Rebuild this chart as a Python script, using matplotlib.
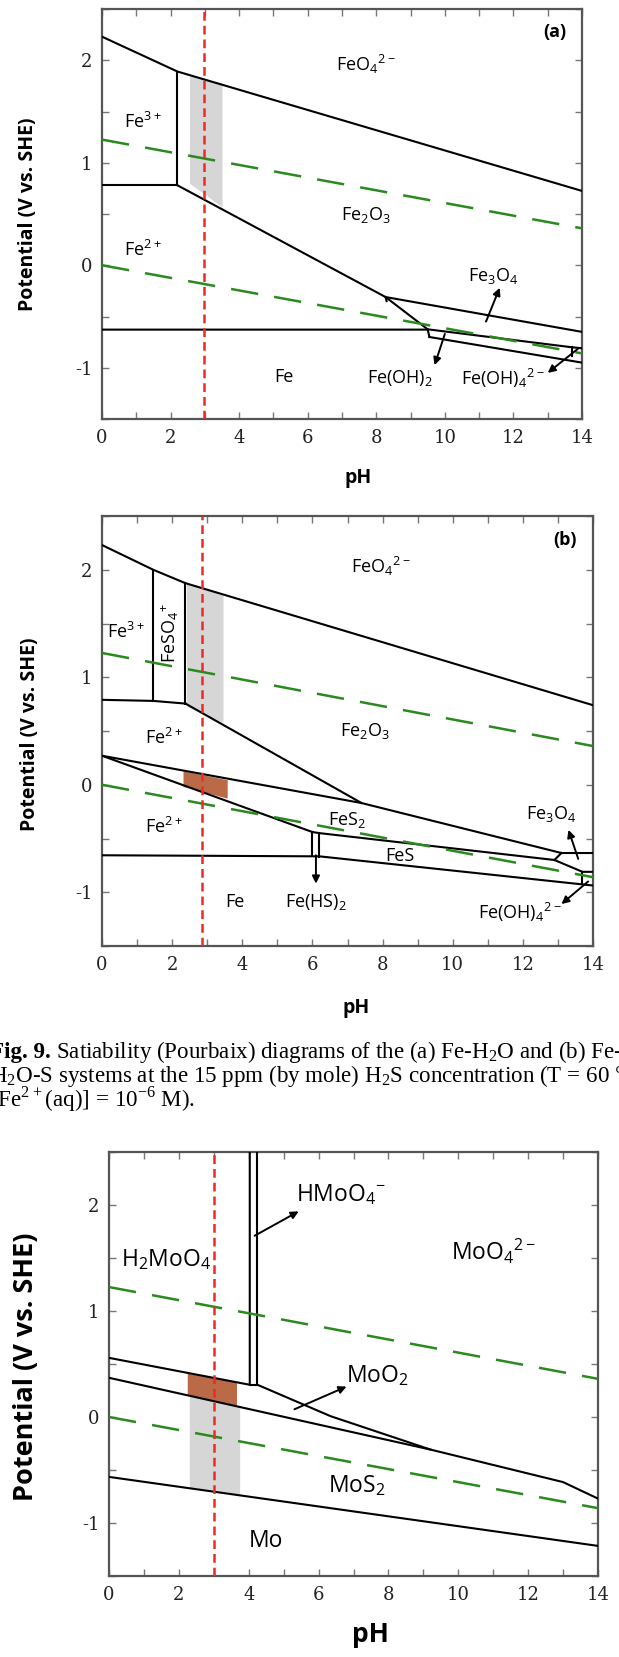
import matplotlib
matplotlib.use('Agg')
import matplotlib.pyplot as plt

plt.rcParams['mathtext.fontset'] = 'custom'
plt.rcParams['mathtext.rm'] = 'Open Sans'
plt.rcParams['mathtext.sf'] = 'Liberation Serif'

W, H = 619, 1657

# water stability lines (green dashed)
WATER_PH = [0, 14]
WATER_UP = [1.226, 0.36]
WATER_LO = [0.0, -0.86]

# ---- panel (a) Fe-H2O ----
A_RED_PH = 2.97
A_LINES = [
    ([0, 2.2, 14], [2.23, 1.89, 0.725]),
    ([2.2, 2.2], [1.89, 0.78]),
    ([0, 2.2], [0.78, 0.78]),
    ([2.2, 8.27, 9.5], [0.78, -0.31, -0.625]),
    ([8.27, 8.3], [-0.31, -0.35]),
    ([8.27, 14], [-0.31, -0.65]),
    ([0, 9.5, 9.55], [-0.628, -0.628, -0.70]),
    ([9.5, 13.7, 14], [-0.625, -0.80, -0.81]),
    ([9.55, 14], [-0.70, -0.95]),
    ([13.7, 13.7], [-0.80, -0.89]),
]
A_GREY_PH = [2.55, 3.5]
A_GREY_TOP = [1.855, 1.76]
A_GREY_BOT = [0.80, 0.57]
A_LABELS = [
    ('FeO$_\\mathrm{4}$$^\\mathrm{2-}$', 7.7, 1.96),
    ('Fe$^\\mathrm{3+}$', 1.19, 1.40),
    ('Fe$_\\mathrm{2}$O$_\\mathrm{3}$', 7.7, 0.49),
    ('Fe$^\\mathrm{2+}$', 1.19, 0.15),
    ('Fe$_\\mathrm{3}$O$_\\mathrm{4}$', 11.4, -0.10),
    ('Fe', 5.3, -1.09),
    ('Fe(OH)$_\\mathrm{2}$', 8.7, -1.10),
    ('Fe(OH)$_\\mathrm{4}$$^\\mathrm{2-}$', 11.7, -1.10),
]
A_ARROWS = [
    ((11.2, -0.55), (11.6, -0.22)),
    ((10.0, -0.67), (9.7, -0.975)),
    ((13.9, -0.81), (13.0, -1.05)),
]

# ---- panel (b) Fe-H2O-S ----
B_RED_PH = 2.85
B_LINES = [
    ([0, 1.46, 2.38, 14], [2.23, 2.0, 1.875, 0.74]),
    ([1.46, 1.46], [2.0, 0.78]),
    ([2.38, 2.38], [1.875, 0.755]),
    ([0, 1.46, 2.38], [0.79, 0.78, 0.755]),
    ([2.38, 7.4], [0.755, -0.17]),
    ([0, 7.4, 13.1, 14], [0.27, -0.17, -0.635, -0.635]),
    ([0, 6.0], [0.27, -0.44]),
    ([6.0, 6.0], [-0.44, -0.656]),
    ([6.2, 6.2], [-0.45, -0.67]),
    ([6.0, 6.2, 12.9], [-0.44, -0.45, -0.70]),
    ([0, 6.2, 14], [-0.656, -0.666, -0.9375]),
    ([12.9, 13.1], [-0.70, -0.635]),
    ([12.9, 13.7, 14], [-0.70, -0.81, -0.81]),
    ([13.7, 13.7], [-0.81, -0.92]),
]
B_GREY_PH = [2.41, 3.45]
B_GREY_TOP = [1.873, 1.771]
B_GREY_BOT = [0.73, 0.58]
B_BROWN_PH = [2.31, 3.57]
B_BROWN_TOP = [0.13, 0.047]
B_BROWN_BOT = [-0.016, -0.125]
B_LABELS = [
    ('FeO$_\\mathrm{4}$$^\\mathrm{2-}$', 7.96, 2.03),
    ('Fe$^\\mathrm{3+}$', 0.68, 1.42),
    ('Fe$_\\mathrm{2}$O$_\\mathrm{3}$', 7.5, 0.50),
    ('Fe$^\\mathrm{2+}$', 1.77, 0.44),
    ('Fe$^\\mathrm{2+}$', 1.77, -0.39),
    ('FeS$_\\mathrm{2}$', 7.0, -0.33),
    ('FeS', 8.5, -0.66),
    ('Fe', 3.8, -1.09),
    ('Fe(HS)$_\\mathrm{2}$', 6.1, -1.09),
    ('Fe$_\\mathrm{3}$O$_\\mathrm{4}$', 12.8, -0.27),
    ('Fe(OH)$_\\mathrm{4}$$^\\mathrm{2-}$', 11.9, -1.19),
]
B_ARROWS = [
    ((6.1, -0.656), (6.1, -0.92)),
    ((13.58, -0.69), (13.3, -0.42)),
    ((13.86, -0.90), (13.1, -1.11)),
]

# ---- panel (c) Mo-H2O-S ----
C_RED_PH = 3.0
C_LINES = [
    ([0, 4.03, 4.03], [0.558, 0.304, 2.5]),
    ([4.03, 4.25], [0.304, 0.304]),
    ([4.25, 4.25], [0.304, 2.5]),
    ([4.25, 6.35, 9.2, 13.0, 14], [0.304, 0.007, -0.307, -0.614, -0.77]),
    ([0, 9.2], [0.37, -0.307]),
    ([0, 14], [-0.565, -1.216]),
]
C_BROWN_PH = [2.24, 3.65]
C_BROWN_TOP = [0.42, 0.33]
C_BROWN_BOT = [0.205, 0.112]
C_GREY_PH = [2.3, 3.74]
C_GREY_TOP = [0.205, 0.105]
C_GREY_BOT = [-0.67, -0.737]
C_LABELS = [
    ('HMoO$_\\mathrm{4}$$^\\mathrm{-}$', 6.63, 2.10),
    ('H$_\\mathrm{2}$MoO$_\\mathrm{4}$', 1.64, 1.48),
    ('MoO$_\\mathrm{4}$$^\\mathrm{2-}$', 11.0, 1.56),
    ('MoO$_\\mathrm{2}$', 7.67, 0.39),
    ('MoS$_\\mathrm{2}$', 7.09, -0.65),
    ('Mo', 4.49, -1.17),
]
C_ARROWS = [
    ((4.17, 1.71), (5.43, 1.94)),
    ((5.31, 0.073), (6.8, 0.287)),
]

X_TICKS = list(range(15))
X_TICKLABELS = [str(t) if t % 2 == 0 else '' for t in X_TICKS]
Y_TICKS = [-1.5, -1, -0.5, 0, 0.5, 1, 1.5, 2, 2.5]
Y_TICKLABELS = ['', '-1', '', '0', '', '1', '', '2', '']

CAPTION_BOLD = 'Fig. 9.'
CAPTION = [
    r'Satiability (Pourbaix) diagrams of the (a) Fe-H$_\mathsf{2}$O and (b) Fe-',
    r'H$_\mathsf{2}$O-S systems at the 15 ppm (by mole) H$_\mathsf{2}$S concentration (T = 60 $\mathsf{\degree}$C,',
    r'[Fe$^\mathsf{2+}$(aq)] = 10$^\mathsf{-6}$ M).',
]

fig = plt.figure(figsize=(W / 100, H / 100), dpi=100)


def box(l, t, r, b):
    return [l / W, 1 - b / H, (r - l) / W, (b - t) / H]


def panel(rect, lines, red_ph, labels, arrows, fills, lab_size, tag=None):
    ax = fig.add_axes(rect)
    for (xs, lo, hi, col) in fills:
        ax.fill_between(xs, lo, hi, color=col, lw=0, zorder=1)
    for xs, ys in lines:
        ax.plot(xs, ys, color='black', lw=1.5, zorder=3)
    for ys in (WATER_UP, WATER_LO):
        ax.plot(WATER_PH, ys, color='#2a8a1e', lw=1.8, dashes=(11, 6.5), zorder=4)
    ax.axvline(red_ph, color='#ee2a24', lw=1.8, dashes=(3.5, 2), zorder=5)
    for txt, x, y in labels:
        ax.text(x, y, txt, ha='center', va='center', fontsize=lab_size,
                family='Open Sans', zorder=6)
    for tail, head in arrows:
        ax.annotate('', xy=head, xytext=tail, zorder=6,
                    arrowprops=dict(arrowstyle='-|>', color='black', lw=1.4,
                                    mutation_scale=11, shrinkA=0, shrinkB=0))
    if tag:
        ax.text(13.2, 2.28, tag, ha='center', va='center', fontsize=13,
                family='Open Sans', weight='bold')
    ax.set_xlim(0, 14)
    ax.set_ylim(-1.5, 2.5)
    ax.set_xticks(X_TICKS)
    ax.set_xticklabels(X_TICKLABELS)
    ax.set_yticks(Y_TICKS)
    ax.set_yticklabels(Y_TICKLABELS)
    ax.tick_params(direction='in', length=5, width=1, color='#777777',
                   top=True, right=True, labelsize=13, pad=7)
    for lab in ax.get_xticklabels() + ax.get_yticklabels():
        lab.set_family('DejaVu Serif')
        lab.set_color('#222222')
    for sp in ax.spines.values():
        sp.set_color('#555555')
        sp.set_linewidth(1.6)
    return ax


panel(box(102, 9, 582, 419), A_LINES, A_RED_PH, A_LABELS, A_ARROWS,
      [(A_GREY_PH, A_GREY_BOT, A_GREY_TOP, '#d6d6d6')], 13, '(a)')
axb = panel(box(102, 516, 593, 946), B_LINES, B_RED_PH, B_LABELS, B_ARROWS,
            [(B_GREY_PH, B_GREY_BOT, B_GREY_TOP, '#d6d6d6'),
             (B_BROWN_PH, B_BROWN_BOT, B_BROWN_TOP, '#bb6a48')], 13, '(b)')
axc = panel(box(109, 1152, 598, 1576), C_LINES, C_RED_PH, C_LABELS, C_ARROWS,
            [(C_GREY_PH, C_GREY_BOT, C_GREY_TOP, '#d6d6d6'),
             (C_BROWN_PH, C_BROWN_BOT, C_BROWN_TOP, '#bb6a48')], 16.5)

# FeSO4+ rotated label in panel (b)
axb.text(1.94, 1.41, 'FeSO$_\\mathrm{4}$$^\\mathrm{+}$', rotation=90, ha='center',
         va='center', fontsize=13, family='Open Sans', zorder=6)

# axis labels
for (x, y), s in (((28, 214), 14), ((30, 734), 14), ((26, 1367), 19.5)):
    fig.text(x / W, 1 - y / H, 'Potential (V vs. SHE)', rotation=90, ha='center',
             va='center', fontsize=s, family='Open Sans', weight='bold')
for (x, y), s in (((358, 478), 14), ((356, 1008), 14), ((370, 1635), 19)):
    fig.text(x / W, 1 - y / H, 'pH', ha='center', va='center', fontsize=s,
             family='Open Sans', weight='bold')

# caption (runs past both edges, as in the source page)
renderer = fig.canvas.get_renderer()
cap_kw = dict(va='baseline', fontsize=16.6, family='Liberation Serif')
x0 = -10
y_base = [1058, 1082, 1106]
bold = fig.text(x0 / W, 1 - y_base[0] / H, CAPTION_BOLD, weight='bold', **cap_kw)
bx = bold.get_window_extent(renderer).x1 + 5
fig.text(bx / W, 1 - y_base[0] / H, CAPTION[0], **cap_kw)
for i in (1, 2):
    fig.text(x0 / W, 1 - y_base[i] / H, CAPTION[i], **cap_kw)

fig.savefig('out.png', dpi=100)
